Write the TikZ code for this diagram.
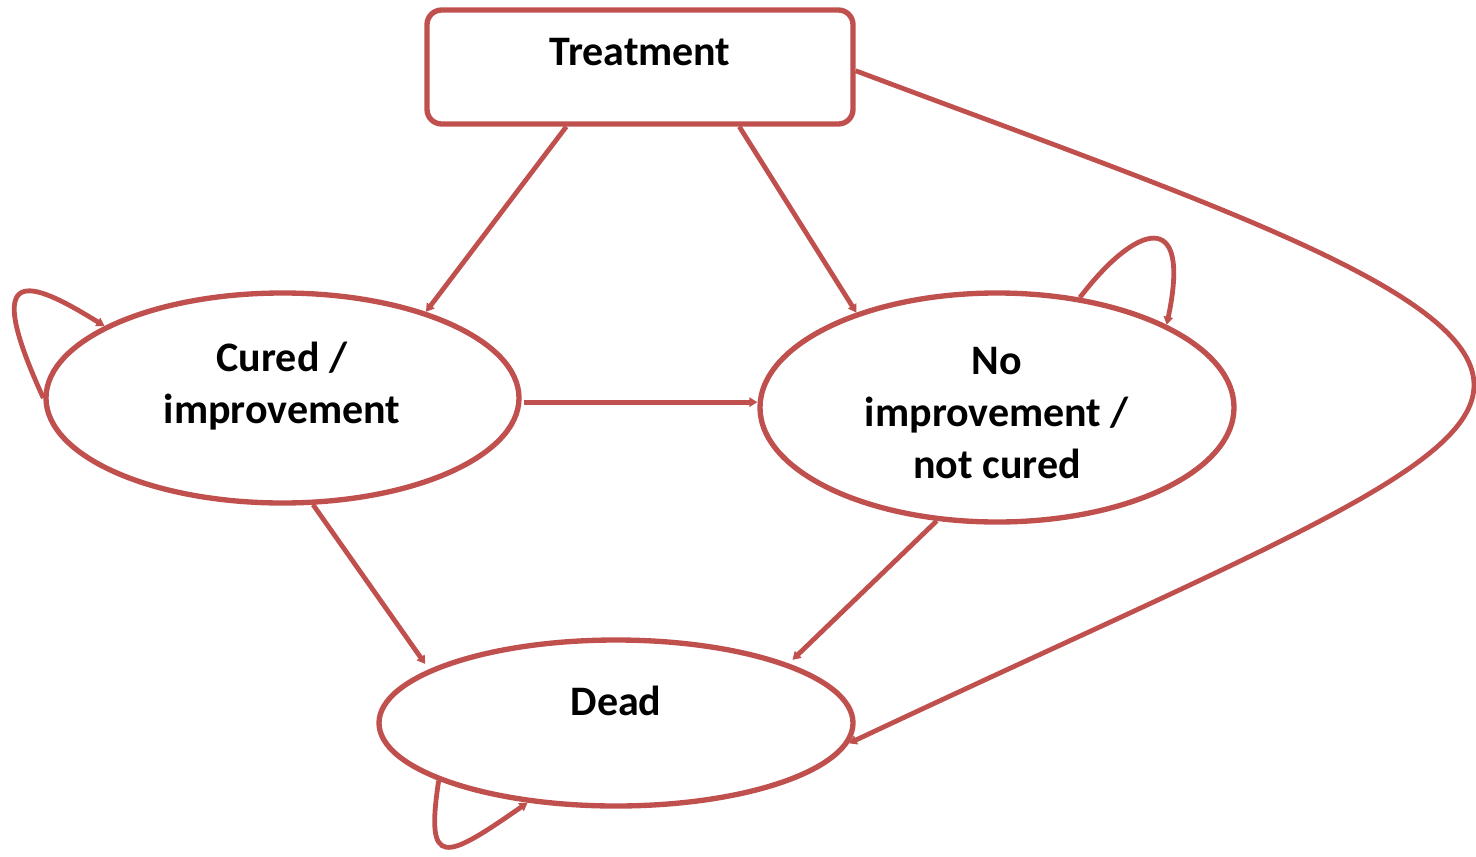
\documentclass[tikz,border=0pt]{standalone}
\usepackage{fontspec}
\setmainfont{Carlito}
\usetikzlibrary{positioning,arrows.meta,shapes.geometric}
\definecolor{link}{HTML}{C0504D}

\begin{document}
\begin{tikzpicture}[x=0.75pt, y=-0.75pt,
  st/.style={ellipse, draw=link, line width=4pt, inner sep=0pt},
  lbl/.style={font=\fontsize{31.5}{39}\selectfont\bfseries, align=center},
  arr/.style={draw=link, line width=3.6pt, -{Triangle[length=6pt,width=7pt]}}]
\useasboundingbox (0,0) rectangle (1476,856);
% states
\node[draw=link, line width=4pt, rounded corners=11pt, minimum width=319.5pt, minimum height=85.5pt, inner sep=0pt] (treat) at (640,67) {};
\node[st, minimum width=354.75pt, minimum height=157.5pt] (cured) at (282.5,398) {};
\node[st, minimum width=355.5pt, minimum height=171.75pt] (noimp) at (997,407.5) {};
\node[st, minimum width=355.5pt, minimum height=124.5pt] (dead) at (616,723) {};
% labels
\node[lbl] (treat-txt) at (640,52) {Treatment};
\node[lbl] (cured-txt) at (282,386) {Cured /\\improvement};
\node[lbl] (noimp-txt) at (997,413) {No\\improvement /\\not cured};
\node[lbl] (dead-txt) at (616,701) {Dead};
% transitions
\draw[arr] (treat.219) -- (cured.31);
\draw[arr] (treat.-31.6) -- (noimp.146);
\draw[arr, shorten <=2pt] (cured.-1.5) -- (cured.-1.5 -| noimp.west);
\draw[arr, shorten >=5pt] (cured.-74) -- (dead.164);
\draw[arr, shorten >=4pt] (noimp.-118) -- (dead.19);
\draw[arr] (treat.-1) .. controls (1200,200) and (1474,290) .. (1474,385)
  .. controls (1474,470) and (1255,552) .. (dead.-5);
% self loops
\draw[arr] (cured.180) .. controls (-20,260) and (30,280) .. (cured.158);
\draw[arr] (noimp.53.6) .. controls (1135,225) and (1192,205) .. (noimp.26.4);
\draw[arr] (dead.-162.4) .. controls (425,870) and (445,860) .. (dead.-138.8);
\end{tikzpicture}
\end{document}
